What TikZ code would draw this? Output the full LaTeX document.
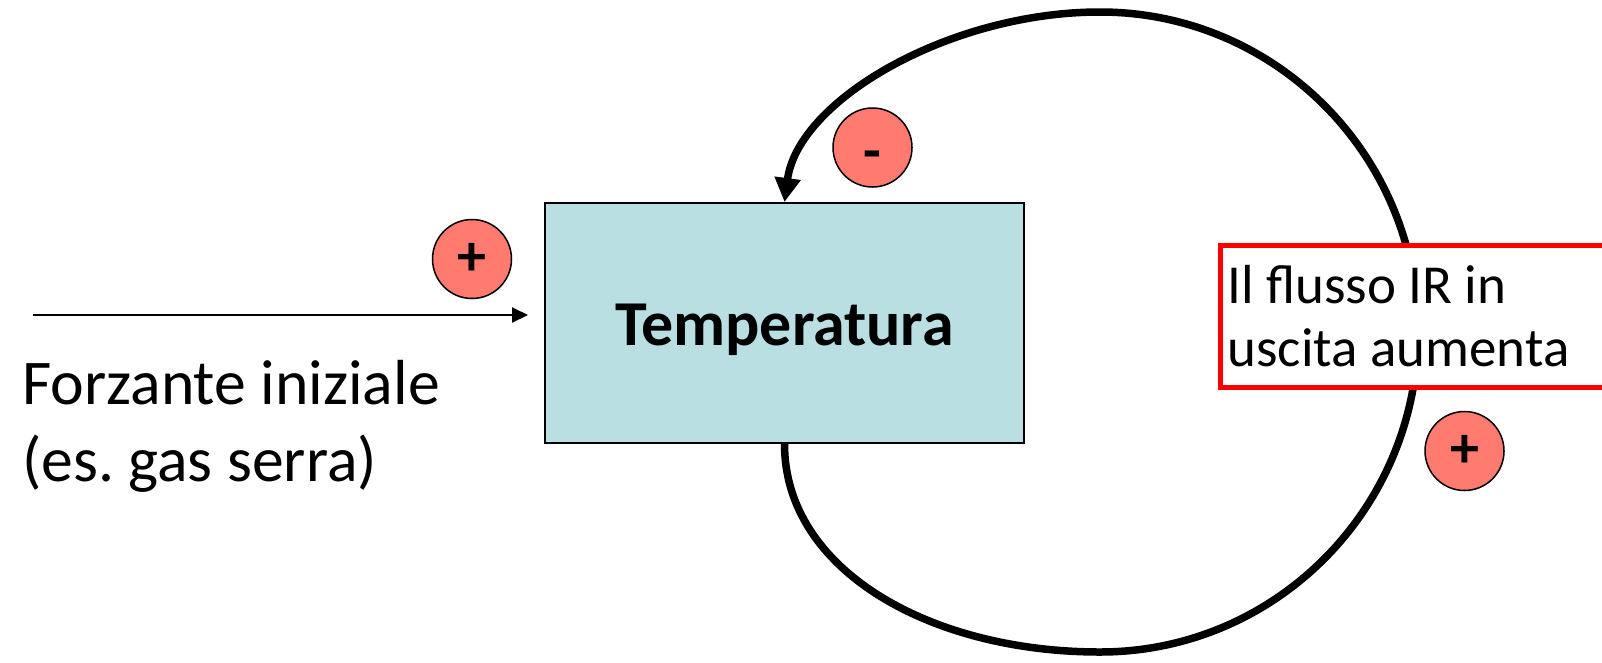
\documentclass[tikz,border=0pt]{standalone}
\usepackage{fontspec}
\setmainfont{Carlito}
\usetikzlibrary{arrows.meta}
\definecolor{boxblue}{HTML}{B9DFE3}
\definecolor{signred}{HTML}{FF7B6F}
\definecolor{framered}{HTML}{FF0000}

\begin{document}
\begin{tikzpicture}[x=1pt,y=-1pt,
  natural spaces/.style={execute at begin node={\frenchspacing\spaceskip=0pt\xspaceskip=0pt}},
  tempbox/.style={draw=black, line width=2pt, fill=boxblue, minimum width=479pt,
    minimum height=240pt, inner sep=0pt, text height=50pt, text depth=6pt,
    font=\fontsize{64}{76}\selectfont\bfseries},
  irbox/.style={draw=framered, line width=5pt, fill=white, minimum width=403pt,
    minimum height=142pt, text width=388pt, inner xsep=7.5pt, inner ysep=0pt,
    align=left, natural spaces, font=\fontsize{55}{63}\selectfont},
  sign/.style={circle, draw=black, line width=1.5pt, fill=signred, minimum size=79pt,
    inner sep=0pt, font=\fontsize{58}{58}\selectfont\bfseries},
  feedback/.style={line width=7.5pt, draw=black},
  forcing/.style={line width=2pt, draw=black, -{Triangle[length=16pt,width=15pt]}},
  caption/.style={align=left, inner sep=0pt, natural spaces,
    font=\fontsize{63.7}{77}\selectfont}
]
\useasboundingbox (0,0) rectangle (1602,662);

% central state box
\node[tempbox] (T) at (784.5,323) {Temperatura};

% external forcing
\node[caption, anchor=north west] (F) at (22,360) {Forzante iniziale\\(es. gas serra)};
\coordinate (src) at (33,315);
\draw[forcing] (src) -- ([xshift=-16pt]T.west |- src);
\node[sign] (s1) at (472,259) {+};

% feedback loop leaving the bottom of the box and re-entering from the top
\draw[feedback, -{Triangle[length=24pt,width=25pt]}]
  (T.south) .. controls (784.5,570) and (930,652) .. (1100,652)
  .. controls (1276,652) and (1418,508) .. (1418,332)
  .. controls (1418,156) and (1276,12) .. (1100,12)
  .. controls (950,12) and (798,100) .. (T.north);

% outgoing IR flux
\node[irbox, anchor=north west] (IR) at (1217.5,242.5) {Il flusso IR in\\uscita aumenta};

\node[sign] (s2) at (872.5,147.5) {\smash{\raisebox{-23pt}{-}}};
\node[sign] (s3) at (1464.5,451) {+};
\end{tikzpicture}
\end{document}
